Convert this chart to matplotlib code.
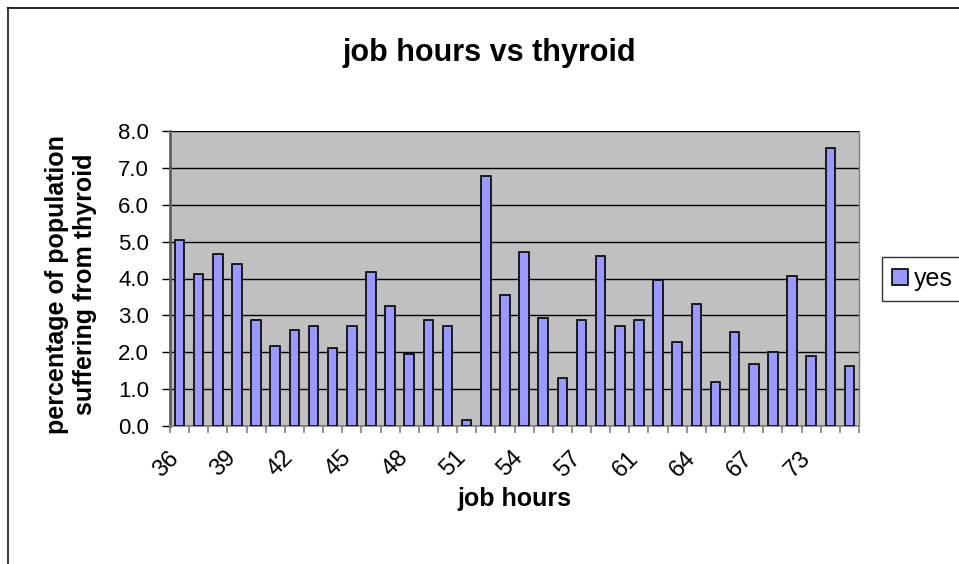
import numpy as np
import matplotlib.pyplot as plt
from matplotlib.lines import Line2D
from matplotlib.transforms import ScaledTranslation

plt.rcParams['font.family'] = ['Liberation Sans', 'DejaVu Sans']

# job hours (only every third one is labelled on the axis)
hours = [36, 37, 38, 39, 40, 41, 42, 43, 44, 45, 46, 47, 48, 49, 50, 51, 52, 53,
         54, 55, 56, 57, 58, 60, 61, 62, 63, 64, 65, 66, 67, 68, 70, 73, 75, 80]
# percentage of population suffering from thyroid
yes = [5.05, 4.13, 4.67, 4.39, 2.87, 2.16, 2.61, 2.72, 2.11, 2.72, 4.18, 3.26,
       1.95, 2.87, 2.72, 0.15, 6.79, 3.54, 4.73, 2.93, 1.30, 2.87, 4.62, 2.72,
       2.87, 3.96, 2.28, 3.32, 1.20, 2.55, 1.68, 2.01, 4.08, 1.90, 7.55, 1.63]

fig = plt.figure(figsize=(9.59, 5.64), dpi=100)
ax = fig.add_axes([170 / 959, 138 / 564, 689 / 959, 295 / 564])
ax.set_facecolor('#c0c0c0')

x = np.arange(len(hours))
bars = ax.bar(x, yes, width=0.5, color='#9999ff', edgecolor='black',
              linewidth=1.2, label='yes', zorder=3)

ax.set_xlim(-0.5, len(hours) - 0.5)
ax.set_ylim(0, 8)
ax.set_yticks(np.arange(0, 9, 1))
ax.set_yticklabels([f"{v:.1f}" for v in np.arange(0, 9, 1)], fontsize=16)
ax.yaxis.grid(True, color='black', linewidth=1, zorder=1)

# labels under every third category, tick marks between categories
ax.set_xticks(x[::3])
ax.set_xticklabels([str(h) for h in hours[::3]], rotation=45, ha='right',
                   rotation_mode='anchor', fontsize=17)
ax.set_xticks(np.arange(-0.5, len(hours), 1), minor=True)
ax.tick_params(axis='x', which='major', length=0, pad=15)
ax.tick_params(axis='x', which='minor', length=5, color='#808080', width=1.2)
ax.tick_params(axis='y', length=6, width=1, pad=9)
shift = ScaledTranslation(-12 / 100, 0, fig.dpi_scale_trans)
for lab in ax.get_xticklabels():
    lab.set_transform(lab.get_transform() + shift)

ax.spines['top'].set_visible(False)
ax.spines['left'].set_color('#606060')
ax.spines['left'].set_linewidth(2)
ax.spines['right'].set_color('#808080')
ax.spines['right'].set_linewidth(1)
ax.spines['bottom'].set_color('#808080')
ax.spines['bottom'].set_linewidth(1.2)

ax.set_xlabel('job hours', fontsize=18, fontweight='bold')
ax.xaxis.set_label_coords(0.5, -(499 - 426) / 295, transform=ax.transAxes)
ax.xaxis.label.set_va('center')
ax.set_ylabel('percentage of population\nsuffering from thyroid', fontsize=18,
              fontweight='bold')
ax.yaxis.set_label_coords(-(170 - 71) / 689, 0.48)
ax.yaxis.label.set_va('center')
fig.text(489 / 959, 1 - 53 / 564, 'job hours vs thyroid', fontsize=22,
         fontweight='bold', ha='center', va='center')

leg = fig.legend(handles=[bars], loc='upper left',
                 bbox_to_anchor=(882 / 959, 1 - 257 / 564), fontsize=18,
                 fancybox=False, edgecolor='black', handlelength=0.64,
                 handleheight=0.64, handletextpad=0.24, borderpad=0.4,
                 borderaxespad=0)
leg.get_frame().set_linewidth(1)

# outer chart border
fig.add_artist(Line2D([8 / 959, 8 / 959], [0, 1 - 8 / 564], color='#404040',
                      linewidth=1.5, transform=fig.transFigure))
fig.add_artist(Line2D([8 / 959, 1], [1 - 8 / 564, 1 - 8 / 564], color='black',
                      linewidth=1.2, transform=fig.transFigure))

fig.savefig('out.png', dpi=100)
